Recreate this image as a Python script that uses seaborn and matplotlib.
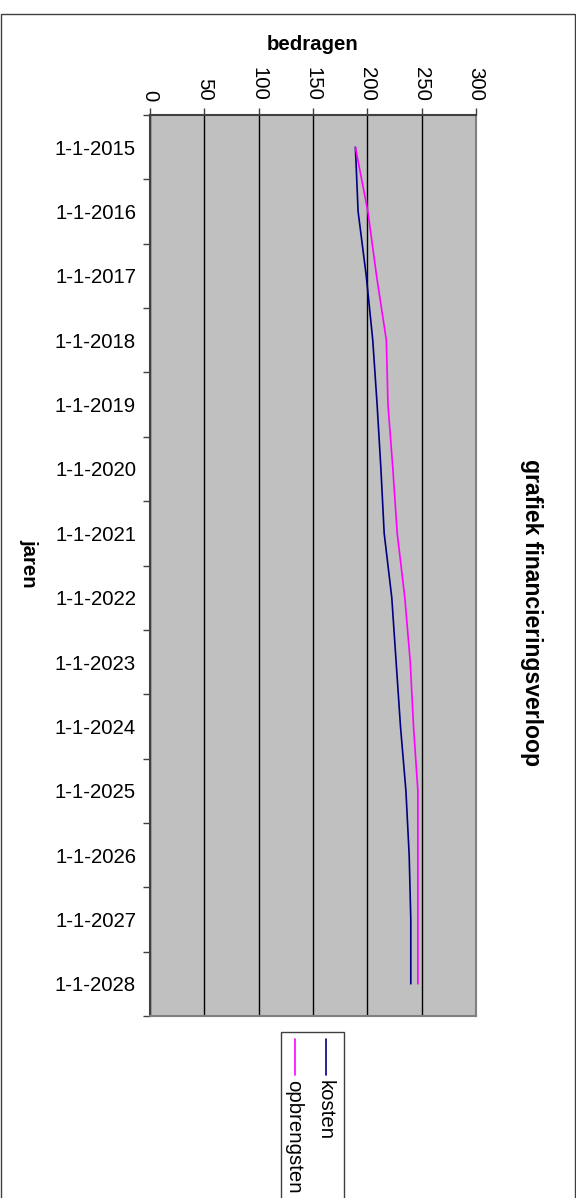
import numpy as np
import pandas as pd
import matplotlib.pyplot as plt
import seaborn as sns
from matplotlib.patches import Rectangle
from matplotlib.lines import Line2D

# data (values in "bedragen")
jaren = ['1-1-2015', '1-1-2016', '1-1-2017', '1-1-2018', '1-1-2019', '1-1-2020', '1-1-2021',
         '1-1-2022', '1-1-2023', '1-1-2024', '1-1-2025', '1-1-2026', '1-1-2027', '1-1-2028']
kosten = [189, 191.5, 199, 205, 209, 212.5, 215.5, 222.5, 226.5, 230.5, 235.5, 238.5, 240, 240]
opbrengsten = [189, 200.5, 208.5, 217.5, 219, 223.5, 227.5, 234.5, 239.5, 242.5, 246.5, 246.5, 246.5, 246.5]
reeksen = ['kosten', 'opbrengsten']
kleuren = {'kosten': '#000080', 'opbrengsten': '#FF00FF'}

sns.set_style('white')
plt.rcParams['font.family'] = ['Liberation Sans', 'DejaVu Sans']
plt.rcParams['text.color'] = 'black'
plt.rcParams['xtick.labelcolor'] = 'black'
plt.rcParams['ytick.labelcolor'] = 'black'

W, H = 576, 1198
fs = 14.7

df = pd.DataFrame({
    'pos': list(range(len(jaren))) * 2,
    'bedrag': kosten + opbrengsten,
    'reeks': ['kosten'] * len(jaren) + ['opbrengsten'] * len(jaren),
})

fig = plt.figure(figsize=(W / 100, H / 100), dpi=100)
ax = fig.add_axes([150 / W, 1 - 1016 / H, 326 / W, 901 / H])
ax.set_facecolor('#C0C0C0')

sns.lineplot(data=df, x='bedrag', y='pos', hue='reeks', palette=kleuren, orient='y',
             sort=False, estimator=None, legend=False, lw=1.2, ax=ax)

ax.set_xlim(0, 300)
ax.set_ylim(len(jaren) - 0.5, -0.5)
ax.set_xlabel('')
ax.set_ylabel('')

# value axis on top, labels turned like the reference
ax.xaxis.tick_top()
ax.set_xticks(range(0, 301, 50))
ax.tick_params(axis='x', top=True, bottom=False, labeltop=True, labelbottom=False,
               length=5, width=1, color='#404040', labelcolor='black', pad=5,
               labelsize=fs, labelrotation=-90)
ax.grid(axis='x', color='black', lw=1)
ax.grid(axis='y', visible=False)

# category axis: labels centred, tick marks between categories
ax.set_yticks(range(len(jaren)))
ax.set_yticklabels(jaren)
ax.set_yticks(np.arange(-0.5, len(jaren), 1), minor=True)
ax.tick_params(axis='y', which='major', left=False, length=0, pad=10, labelsize=fs,
               labelcolor='black')
ax.tick_params(axis='y', which='minor', left=True, length=5, width=1, color='#404040')

for s in ['top', 'left']:
    ax.spines[s].set_color('#404040')
    ax.spines[s].set_linewidth(1.5)
for s in ['right', 'bottom']:
    ax.spines[s].set_color('#808080')
    ax.spines[s].set_linewidth(1.5)

fig.text(313 / W, 1 - 45 / H, 'bedragen', ha='center', va='center', fontweight='bold',
         fontsize=fs, color='black')
fig.text(29 / W, 1 - 563 / H, 'jaren', ha='center', va='center', rotation=-90,
         fontweight='bold', fontsize=fs, color='black')
fig.text(532 / W, 1 - 613 / H, 'grafiek financieringsverloop', ha='center', va='center',
         rotation=-90, fontweight='bold', fontsize=16.6, color='black')

# outer chart border (cut off at the bottom)
fig.add_artist(Rectangle((0.5 / W, -0.01), 574.5 / W, 1 - 14 / H + 0.01, transform=fig.transFigure,
                         fill=False, edgecolor='#404040', lw=1))

# legend, turned like the rest of the chart
fig.add_artist(Rectangle((281 / W, -0.01), 63 / W, 1 - 1032 / H + 0.01, transform=fig.transFigure,
                         facecolor='white', edgecolor='#404040', lw=1))
for naam, x in zip(reeksen, [326, 295]):
    fig.add_artist(Line2D([x / W, x / W], [1 - 1039 / H, 1 - 1075 / H], transform=fig.transFigure,
                          color=kleuren[naam], lw=1.2))
    fig.text((x - 1) / W, 1 - 1080 / H, naam, ha='center', va='top', rotation=-90,
             fontsize=fs, color='black')

fig.savefig('out.png', dpi=100)
